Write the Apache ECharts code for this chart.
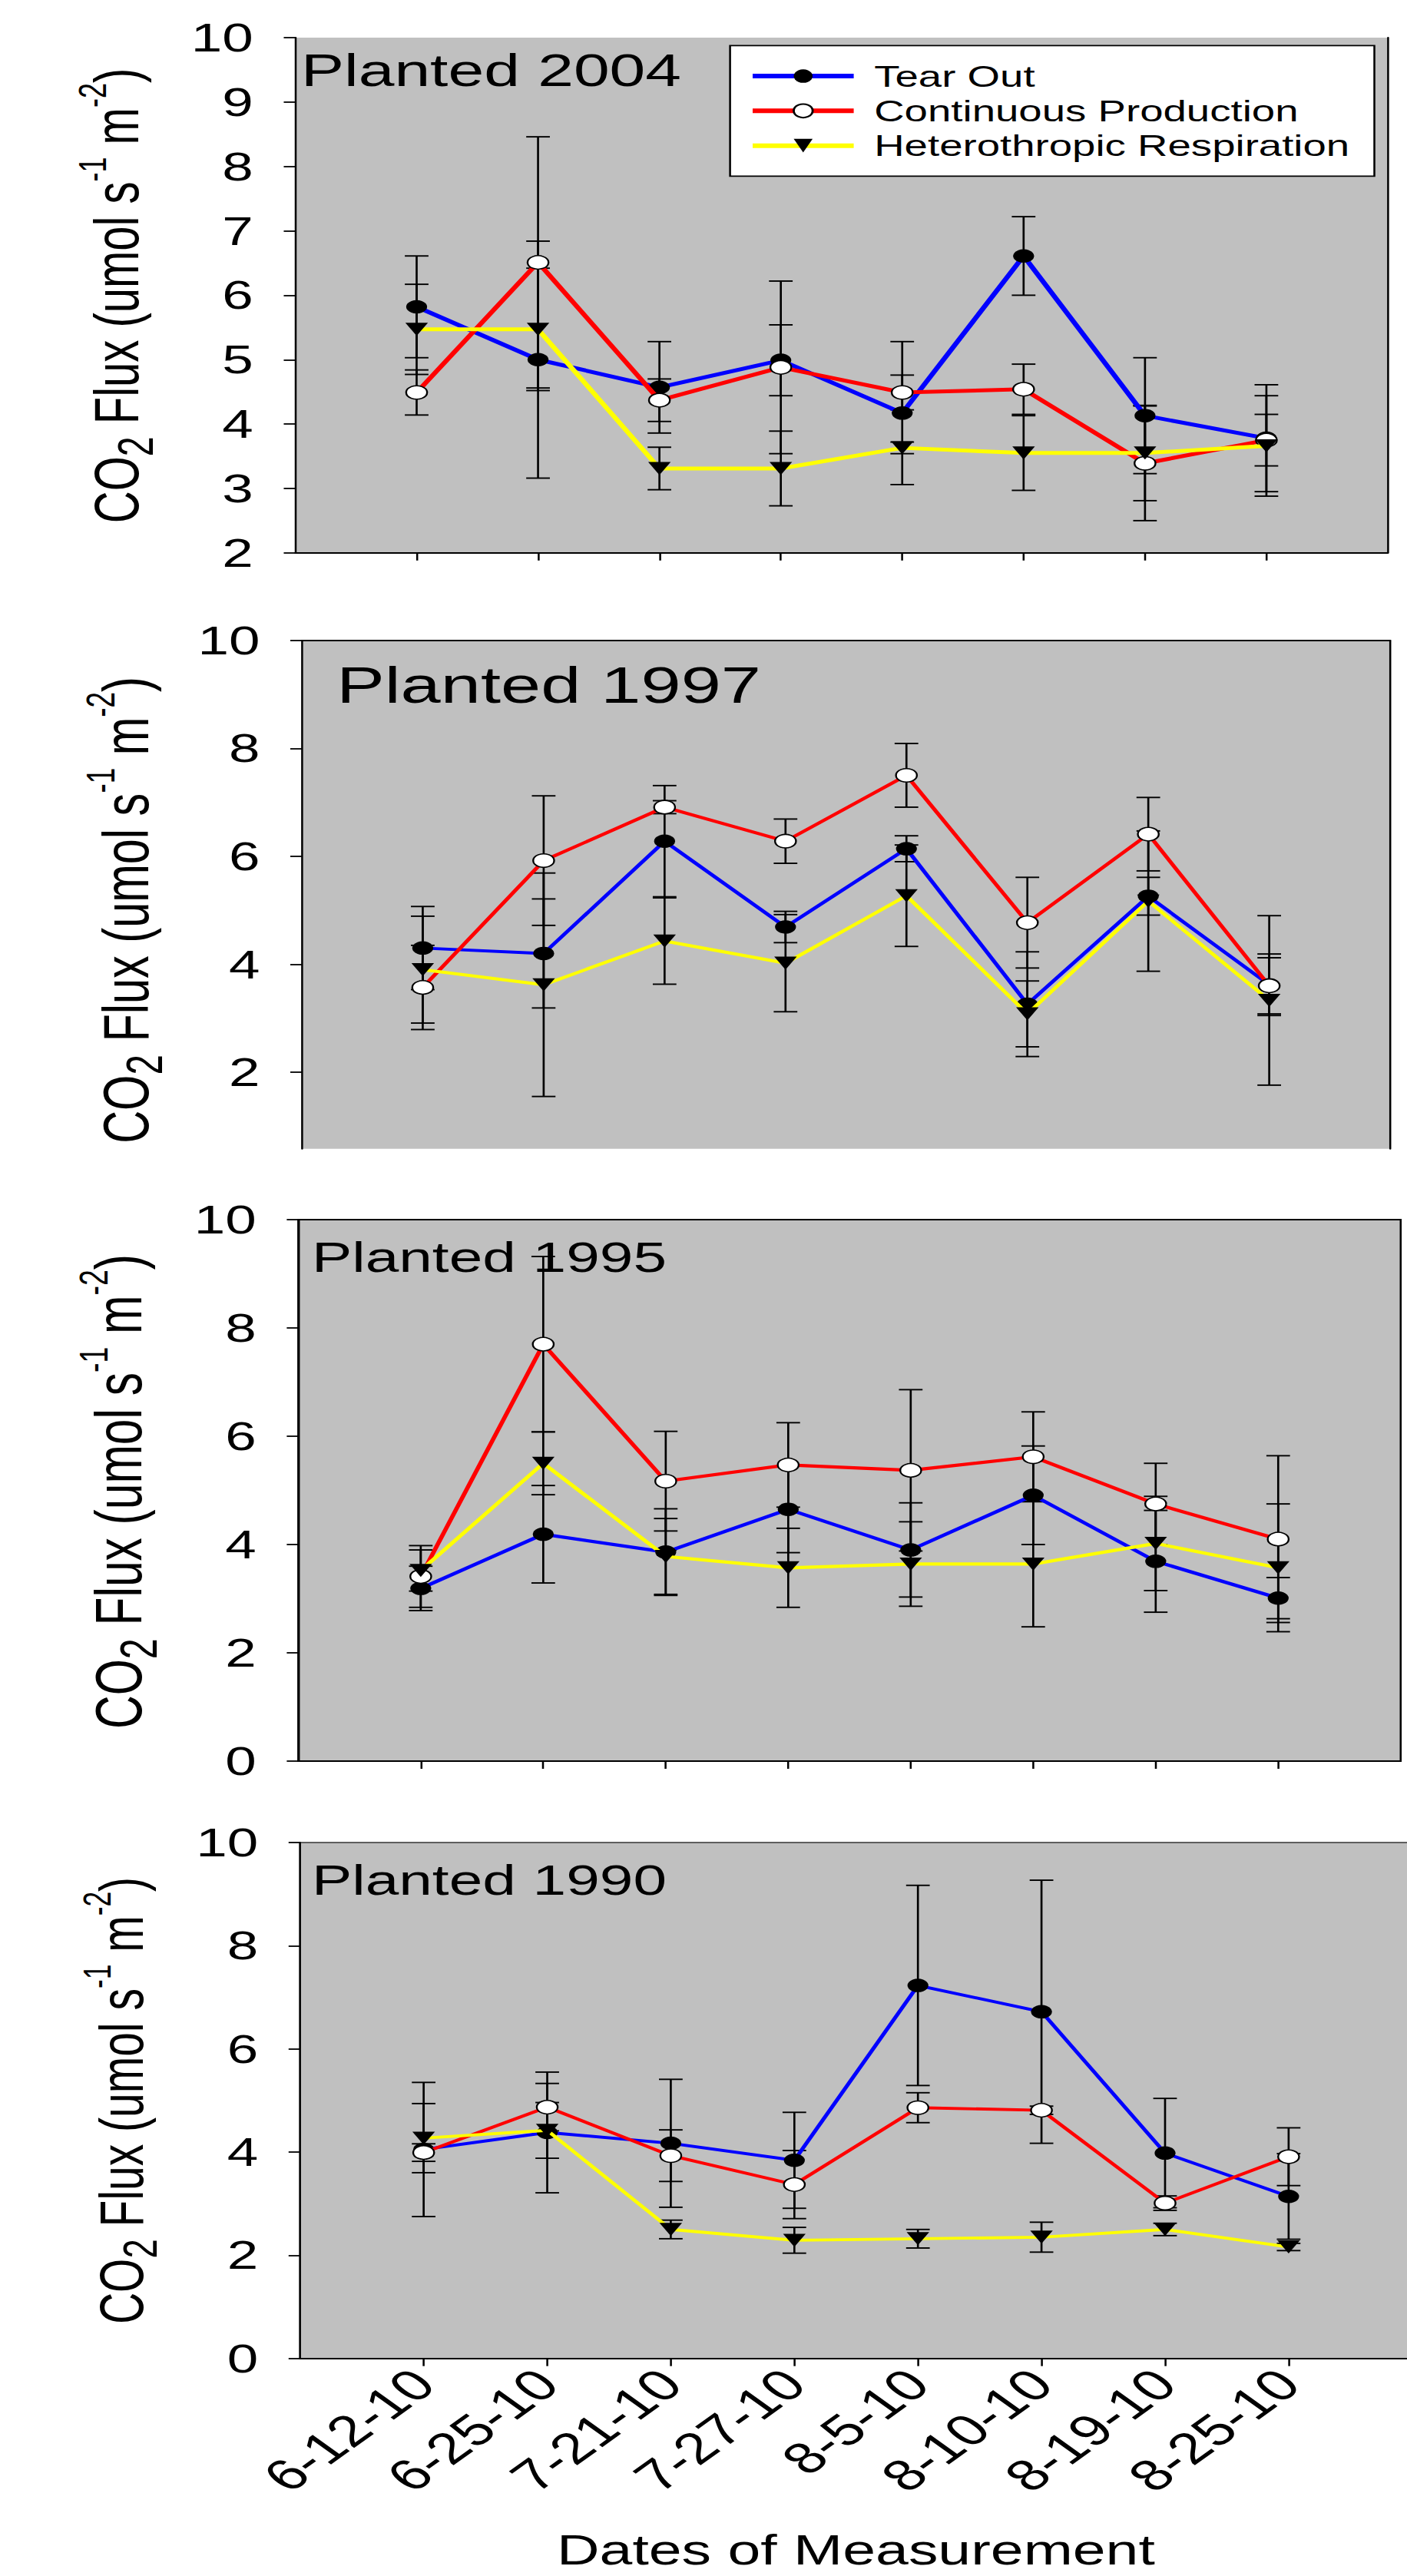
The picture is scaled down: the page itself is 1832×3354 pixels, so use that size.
<!DOCTYPE html>
<html><head><meta charset="utf-8">
<script src="https://cdn.jsdelivr.net/npm/echarts@6/dist/echarts.min.js"></script>
<style>
html,body{margin:0;padding:0;background:#fff;overflow:hidden;width:1832px;height:3354px;}
#wrap{width:1832px;height:3354px;overflow:hidden;position:relative;}
#chart{width:1340px;height:3354px;transform:scaleX(1.4);transform-origin:0 0;position:absolute;left:0;top:0;}
</style></head><body><div id="wrap"><div id="chart"></div></div>
<script>
// ---------- data ----------
const dates = ['6-12-10','6-25-10','7-21-10','7-27-10','8-5-10','8-10-10','8-19-10','8-25-10'];
const seriesNames = ['Tear Out','Continuous Production','Heterothropic Respiration'];
const panelLabels = ['Planted 2004','Planted 1997','Planted 1995','Planted 1990'];
const xTitle = 'Dates of Measurement';

const tearOut2004 = [5.82, 5.00, 4.57, 4.99, 4.17, 6.61, 4.13, 3.78];
const tearOut2004Err = [0.79, 1.84, 0.71, 0.55, 1.11, 0.61, 0.90, 0.83];
const contProd2004 = [4.49, 6.51, 4.37, 4.88, 4.49, 4.54, 3.39, 3.75];
const contProd2004Err = [0.35, 1.95, 0.33, 1.34, 0.27, 0.39, 0.89, 0.40];
const hetResp2004 = [5.47, 5.47, 3.31, 3.31, 3.63, 3.55, 3.55, 3.66];
const hetResp2004Err = [0.70, 0.95, 0.33, 0.58, 0.09, 0.58, 0.74, 0.78];

const tearOut1997 = [4.30, 4.20, 6.28, 4.69, 6.14, 3.26, 5.26, 3.62];
const tearOut1997Err = [0.77, 1.01, 1.03, 0.29, 0.24, 0.97, 0.35, 0.57];
const contProd1997 = [3.57, 5.92, 6.91, 6.28, 7.50, 4.77, 6.41, 3.60];
const contProd1997Err = [0.78, 1.20, 0.12, 0.41, 0.59, 0.84, 0.68, 0.52];
const hetResp1997 = [3.90, 3.62, 4.43, 4.02, 5.27, 3.08, 5.17, 3.33];
const hetResp1997Err = [0.99, 2.07, 0.80, 0.90, 0.94, 0.61, 1.30, 1.57];

const tearOut1995 = [3.19, 4.19, 3.86, 4.65, 3.90, 4.91, 3.69, 3.01];
const tearOut1995Err = [0.41, 0.90, 0.80, 0.80, 0.87, 0.91, 0.94, 0.38];
const contProd1995 = [3.41, 7.70, 5.17, 5.47, 5.37, 5.62, 4.75, 4.10];
const contProd1995Err = [0.57, 1.62, 0.92, 0.78, 1.49, 0.83, 0.75, 1.54];
const hetResp1995 = [3.52, 5.50, 3.78, 3.57, 3.64, 3.64, 4.02, 3.57];
const hetResp1995Err = [0.38, 0.58, 0.70, 0.73, 0.78, 1.16, 0.87, 1.18];

const tearOut1990 = [4.05, 4.38, 4.17, 3.84, 7.23, 6.72, 3.98, 3.14];
const tearOut1990Err = [1.30, 1.17, 1.24, 0.93, 1.94, 2.55, 1.06, 0.83];
const contProd1990 = [3.99, 4.87, 3.93, 3.37, 4.86, 4.81, 3.01, 3.91];
const contProd1990Err = [0.17, 0.46, 0.50, 0.66, 0.29, 0.08, 0.14, 0.56];
const hetResp1990 = [4.27, 4.42, 2.50, 2.29, 2.32, 2.35, 2.50, 2.16];
const hetResp1990Err = [0.67, 0.54, 0.18, 0.25, 0.18, 0.29, 0.12, 0.07];

const yTicks2004 = [2,3,4,5,6,7,8,9,10];
const yTicks1997 = [2,4,6,8,10];
const yTicks1995 = [0,2,4,6,8,10];
const yTicks1990 = [0,2,4,6,8,10];

// ---------- assembly ----------
const panelData = [
  {vals:[tearOut2004, contProd2004, hetResp2004], errs:[tearOut2004Err, contProd2004Err, hetResp2004Err], ticks: yTicks2004},
  {vals:[tearOut1997, contProd1997, hetResp1997], errs:[tearOut1997Err, contProd1997Err, hetResp1997Err], ticks: yTicks1997},
  {vals:[tearOut1995, contProd1995, hetResp1995], errs:[tearOut1995Err, contProd1995Err, hetResp1995Err], ticks: yTicks1995},
  {vals:[tearOut1990, contProd1990, hetResp1990], errs:[tearOut1990Err, contProd1990Err, hetResp1990Err], ticks: yTicks1990}
];
// layout (chart units; page is stretched horizontally by 1.4)
const FONT = 'Liberation Sans, Arial, sans-serif';
const layout = [
  {left:274.6, top:49,    width:1016.1, height:670.8, min:2,    lw:5.0, label:{x:280, y:91, size:60},   ytitle:{x:108.6, y:385, size:58}, border:'right'},
  {left:280.7, top:833.8, width:1012.2, height:662,   min:0.58, lw:4.0, label:{x:313, y:892, size:67},  ytitle:{x:116.8, y:1185, size:59.5}, border:'topright'},
  {left:277.4, top:1588,  width:1025.3, height:705,   min:0,    lw:4.2, label:{x:290, y:1636, size:56}, ytitle:{x:110.7, y:1942, size:60.5}, border:'all'},
  {left:279.1, top:2399,  width:1034.3, height:671.7, min:0,    lw:3.9, label:{x:290, y:2447, size:56}, ytitle:{x:112.9, y:2735, size:57}, border:'all'}
];
const styles = [
  {color:'#0000ff', symbol:'circle',   size:[19.5,17.5], fill:'#000000', rot:0},
  {color:'#ff0000', symbol:'circle',   size:[19.5,17.5], fill:'#ffffff', rot:0},
  {color:'#ffff00', symbol:'triangle', size:[21,17],     fill:'#000000', rot:180}
];
const cats = [''].concat(dates, ['']);

const grids = [], xAxes = [], yAxes = [], graphics = [];
const lineSeries = [], errSeries = [];

function errRender(params, api) {
  const x = api.value(0), y = api.value(1), e = api.value(2);
  const top = api.coord([x, y + e]);
  const bot = api.coord([x, y - e]);
  const hw = 11;
  const st = {stroke:'#000', lineWidth:1.9, fill:null};
  return {type:'group', children:[
    {type:'line', shape:{x1:top[0], y1:top[1], x2:bot[0], y2:bot[1]}, style:st},
    {type:'line', shape:{x1:top[0]-hw, y1:top[1], x2:top[0]+hw, y2:top[1]}, style:st},
    {type:'line', shape:{x1:bot[0]-hw, y1:bot[1], x2:bot[0]+hw, y2:bot[1]}, style:st}
  ]};
}

layout.forEach((L, p) => {
  const pd = panelData[p];
  const isLast = p === 3;
  grids.push({left:L.left, top:L.top, width:L.width, height:L.height, show:true,
    backgroundColor:'#c0c0c0',
    borderWidth: L.border === 'all' ? (isLast ? 1.3 : 1.8) : 0,
    borderColor: isLast ? '#333' : '#000'});
  xAxes.push({gridIndex:p, type:'category', data:cats, boundaryGap:false,
    axisLine:{show: p !== 1, onZero:false, lineStyle:{color:'#000', width:1.8}},
    axisTick:{show: p !== 1, length:10, interval:(i)=> i>=1 && i<=8, lineStyle:{color:'#000', width:1.8}},
    axisLabel:{show:isLast, interval:0, rotate:45, margin:24, fontSize:57, fontFamily:FONT, color:'#000'},
    splitLine:{show:false}});
  yAxes.push({gridIndex:p, type:'value', min:L.min, max:10,
    axisLine:{show:true, onZero:false, lineStyle:{color:'#000', width:1.8}},
    axisTick:{show:true, length:10.7, customValues:pd.ticks, lineStyle:{color:'#000', width:1.8}},
    axisLabel:{show:true, customValues:pd.ticks, margin:39, fontSize:52, fontFamily:FONT, color:'#000'},
    splitLine:{show:false}});
  pd.vals.forEach((vals, k) => {
    const S = styles[k];
    lineSeries.push({type:'line', name:seriesNames[k], xAxisIndex:p, yAxisIndex:p,
      data: vals.map((v,i)=>[i+1, v]),
      symbol:S.symbol, symbolSize:S.size, symbolRotate:S.rot, showAllSymbol:true,
      lineStyle:{color:S.color, width:L.lw},
      itemStyle:{color:S.fill, borderColor:'#000', borderWidth: k===1 ? 1.6 : 0},
      z:3 + k, animation:false, emphasis:{disabled:true}});
    errSeries.push({type:'custom', name:'err-' + p + '-' + k, xAxisIndex:p, yAxisIndex:p,
      data: vals.map((v,i)=>[i+1, v, pd.errs[k][i]]),
      encode:{x:0, y:1}, renderItem:errRender, z:2, animation:false, silent:true});
  });
  graphics.push({type:'text', x:L.label.x, y:L.label.y, z:1,
    style:{text:panelLabels[p], fontSize:L.label.size, fontFamily:FONT, fill:'#000', align:'left', verticalAlign:'middle'}});
  const F = L.ytitle.size;
  graphics.push({type:'text', x:L.ytitle.x, y:L.ytitle.y, rotation:Math.PI/2, z:1,
    style:{text:'{n|CO}{sub|2}{n| Flux (umol s}{sup|-1}{n| m}{sup|-2}{n|)}', align:'center', verticalAlign:'middle',
      rich:{
        n:{fontSize:F, fontFamily:FONT, fill:'#000', lineHeight:F*1.4},
        sub:{fontSize:F*0.8, fontFamily:FONT, fill:'#000', verticalAlign:'bottom', lineHeight:F*0.8},
        sup:{fontSize:F*0.62, fontFamily:FONT, fill:'#000', verticalAlign:'top', lineHeight:F*0.9}
      }}});
});
// border axes for panels 1 and 2
yAxes.push({gridIndex:0, type:'value', min:2, max:10, position:'right',
  axisLine:{show:true, onZero:false, lineStyle:{color:'#000', width:1.8}}, axisTick:{show:false}, axisLabel:{show:false}, splitLine:{show:false}});
yAxes.push({gridIndex:1, type:'value', min:0.58, max:10, position:'right',
  axisLine:{show:true, onZero:false, lineStyle:{color:'#000', width:1.8}}, axisTick:{show:false}, axisLabel:{show:false}, splitLine:{show:false}});
xAxes.push({gridIndex:1, type:'category', data:cats, boundaryGap:false, position:'top',
  axisLine:{show:true, onZero:false, lineStyle:{color:'#000', width:1.8}}, axisTick:{show:false}, axisLabel:{show:false}, splitLine:{show:false}});

graphics.push({type:'text', x:796, y:3320, z:1,
  style:{text:xTitle, fontSize:55, lineHeight:40, fontFamily:FONT, fill:'#000', align:'center', verticalAlign:'middle'}});

const chart = echarts.init(document.getElementById('chart'), null, {renderer:'svg'});
chart.setOption({
  animation:false,
  backgroundColor:'#ffffff',
  grid:grids, xAxis:xAxes, yAxis:yAxes,
  legend:{orient:'vertical', left:679, top:59.4,
    backgroundColor:'#fff', borderColor:'#000', borderWidth:1.8,
    padding:[17,23,17,18], itemWidth:94, itemHeight:22, itemGap:0,
    symbolRotate:'inherit', selectedMode:false,
    lineStyle:{width:6},
    textStyle:{fontSize:39, fontFamily:FONT, color:'#000', lineHeight:45.3, padding:[0,0,0,14]},
    data:seriesNames},
  series: lineSeries.concat(errSeries),
  graphic: graphics
});
</script></body></html>
